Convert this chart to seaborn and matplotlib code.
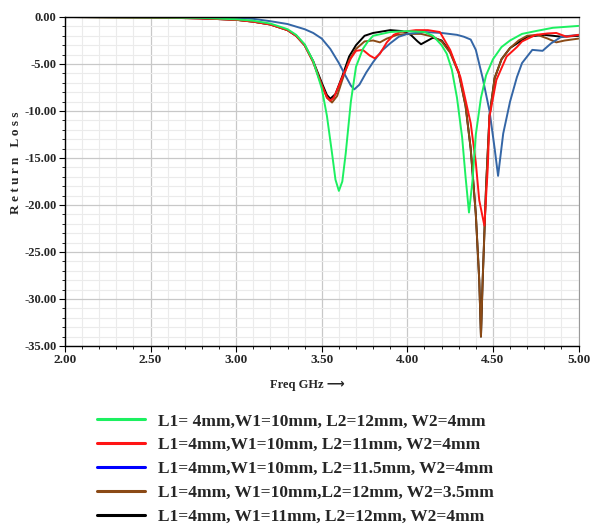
import matplotlib
matplotlib.use("Agg")
import matplotlib.pyplot as plt
from matplotlib.lines import Line2D
from matplotlib.ticker import MultipleLocator, FormatStrFormatter
import seaborn as sns
import pandas as pd

# legend labels, in the order of the reference legend
labels = ['L1= 4mm,W1=10mm, L2=12mm, W2=4mm',
          'L1=4mm,W1=10mm, L2=11mm, W2=4mm',
          'L1=4mm,W1=10mm, L2=11.5mm, W2=4mm',
          'L1=4mm, W1=10mm,L2=12mm, W2=3.5mm',
          'L1=4mm, W1=11mm, L2=12mm, W2=4mm']
line_colours = ['#1cf060', '#ff1414', '#3466a6', '#8b4a16', '#000000']
legend_colours = ['#1cf060', '#ff1414', '#0000ff', '#8b4a16', '#000000']

# (GHz, dB)
green_f = [2.00, 2.50, 2.80, 3.00, 3.10, 3.20, 3.30, 3.35, 3.40, 3.45, 3.50, 3.53, 3.56, 3.58,
           3.60, 3.62, 3.64, 3.67, 3.70, 3.74, 3.77, 3.80, 3.90, 4.00, 4.10, 4.15, 4.20, 4.23,
           4.26, 4.29, 4.32, 4.34, 4.36, 4.38, 4.40, 4.43, 4.46, 4.50, 4.55, 4.60, 4.67, 4.75,
           4.85, 5.00]
green_db = [0.00, -0.05, -0.10, -0.25, -0.40, -0.70, -1.30, -1.90, -2.90, -4.70, -7.60, -10.5,
            -14.5, -17.3, -18.5, -17.5, -14.5, -9.0, -5.3, -3.4, -2.6, -2.0, -1.6, -1.5, -1.6,
            -2.0, -3.0, -3.9, -5.6, -8.6, -12.8, -17.0, -20.8, -17.5, -12.5, -8.6, -6.2, -4.5,
            -3.2, -2.5, -1.8, -1.5, -1.15, -0.95]

red_f = [2.00, 2.50, 2.80, 3.00, 3.10, 3.20, 3.30, 3.35, 3.40, 3.45, 3.50, 3.53, 3.55, 3.57,
         3.60, 3.62, 3.65, 3.67, 3.70, 3.74, 3.78, 3.81, 3.84, 3.88, 3.92, 3.96, 4.05, 4.12,
         4.19, 4.25, 4.31, 4.37, 4.40, 4.42, 4.45, 4.47, 4.48, 4.52, 4.58, 4.64, 4.67, 4.75,
         4.82, 4.87, 4.93, 5.00]
red_db = [0.00, -0.05, -0.15, -0.30, -0.50, -0.80, -1.40, -2.00, -3.00, -4.80, -7.30, -8.50,
          -8.90, -8.60, -7.30, -6.40, -5.20, -4.40, -3.60, -3.50, -4.10, -4.40, -3.90, -2.70,
          -1.90, -1.60, -1.40, -1.40, -1.60, -3.50, -6.40, -11.3, -15.5, -19.5, -22.2, -16.0,
          -10.6, -6.7, -4.2, -3.2, -2.6, -1.9, -1.75, -1.7, -2.1, -1.9]

blue_f = [2.00, 2.50, 2.80, 3.00, 3.10, 3.20, 3.30, 3.40, 3.45, 3.50, 3.55, 3.60, 3.64, 3.67,
          3.69, 3.72, 3.76, 3.80, 3.85, 3.90, 3.95, 4.00, 4.10, 4.20, 4.29, 4.33, 4.37, 4.40,
          4.44, 4.48, 4.51, 4.53, 4.56, 4.60, 4.64, 4.67, 4.73, 4.79, 4.84, 4.90, 5.00]
blue_db = [0.00, 0.00, -0.05, -0.10, -0.20, -0.45, -0.75, -1.30, -1.70, -2.30, -3.40, -4.90,
           -6.30, -7.30, -7.70, -7.20, -5.90, -4.80, -3.60, -2.80, -2.10, -1.80, -1.60, -1.70,
           -1.90, -2.10, -2.40, -3.50, -6.50, -10.0, -14.0, -16.9, -12.4, -9.0, -6.4, -4.9,
           -3.5, -3.6, -2.8, -2.1, -1.9]

brown_f = [2.00, 2.50, 2.80, 3.00, 3.10, 3.20, 3.30, 3.35, 3.40, 3.45, 3.50, 3.53, 3.56, 3.59,
           3.62, 3.66, 3.70, 3.75, 3.80, 3.84, 3.88, 3.94, 4.00, 4.08, 4.15, 4.20, 4.25, 4.30,
           4.34, 4.37, 4.40, 4.42, 4.43, 4.44, 4.46, 4.48, 4.51, 4.55, 4.60, 4.65, 4.70, 4.76,
           4.82, 4.87, 4.92, 5.00]
brown_db = [0.00, -0.05, -0.15, -0.30, -0.50, -0.80, -1.40, -2.00, -3.00, -4.80, -7.20, -8.60,
            -9.10, -8.40, -6.70, -4.60, -3.40, -2.60, -2.50, -2.70, -2.30, -1.90, -1.80, -1.80,
            -2.10, -2.60, -3.80, -6.00, -9.50, -14.0, -21.0, -28.0, -34.0, -28.0, -18.0, -10.5,
            -6.5, -4.5, -3.3, -2.5, -2.0, -1.9, -2.3, -2.7, -2.5, -2.3]

black_f = [2.00, 2.50, 2.80, 3.00, 3.10, 3.20, 3.30, 3.35, 3.40, 3.45, 3.50, 3.53, 3.55, 3.58,
           3.62, 3.66, 3.70, 3.75, 3.80, 3.90, 3.97, 4.02, 4.06, 4.08, 4.11, 4.15, 4.20, 4.25,
           4.30, 4.34, 4.37, 4.40, 4.42, 4.43, 4.44, 4.46, 4.48, 4.51, 4.55, 4.60, 4.70, 4.80,
           4.90, 5.00]
black_db = [0.00, -0.05, -0.15, -0.30, -0.50, -0.80, -1.40, -2.00, -3.00, -4.70, -7.00, -8.30,
            -8.70, -8.20, -6.30, -4.20, -3.00, -2.00, -1.70, -1.40, -1.50, -1.90, -2.60, -2.90,
            -2.60, -2.20, -2.50, -3.70, -5.90, -9.40, -14.0, -21.0, -28.0, -34.0, -28.0, -18.0,
            -10.5, -6.5, -4.5, -3.3, -2.1, -1.9, -2.1, -2.0]

series = [(green_f, green_db), (red_f, red_db), (blue_f, blue_db),
          (brown_f, brown_db), (black_f, black_db)]
frames = []
for lab, (f, db) in zip(labels, series):
    frames.append(pd.DataFrame({'freq': f, 'loss': db, 'design': lab}))
df = pd.concat(frames, ignore_index=True)

sns.set_style('whitegrid')
serif = ['Liberation Serif', 'DejaVu Serif']
plt.rcParams['font.family'] = serif

fig = plt.figure(figsize=(5.93, 5.24), dpi=100)
ax = fig.add_axes([0.1096, 0.3397, 0.8660, 0.6279])

# draw order so that the reference overlaps look right
draw_order = [4, 3, 2, 1, 0]
for i in draw_order:
    sub = df[df['design'] == labels[i]]
    sns.lineplot(data=sub, x='freq', y='loss', color=line_colours[i], linewidth=1.4,
                 sort=False, estimator=None, ax=ax)

ax.set_xlim(2.0, 5.0)
ax.set_ylim(-35, 0)
ax.xaxis.set_major_locator(MultipleLocator(0.5))
ax.xaxis.set_minor_locator(MultipleLocator(0.1))
ax.yaxis.set_major_locator(MultipleLocator(5))
ax.yaxis.set_minor_locator(MultipleLocator(1))
ax.xaxis.set_major_formatter(FormatStrFormatter('%.2f'))
ax.yaxis.set_major_formatter(FormatStrFormatter('%.2f'))
ax.grid(which='major', color='#c8c8c8', linewidth=0.9)
ax.grid(which='minor', color='#ebebeb', linewidth=0.8)
ax.tick_params(which='both', direction='out', left=True, bottom=True, color='black')
ax.tick_params(which='major', length=4, width=0.8, labelsize=9, pad=2)
ax.tick_params(which='minor', length=2.5, width=0.6)
ax.tick_params(axis='x', labelsize=9.5, pad=2)
for t in ax.get_xticklabels() + ax.get_yticklabels():
    t.set_fontweight('bold')

for side in ['left', 'bottom', 'top']:
    ax.spines[side].set_color('black')
    ax.spines[side].set_linewidth(1.0)
ax.spines['right'].set_color('#999999')

ax.set_xlabel('Freq GHz \u27f6', fontsize=9, fontweight='bold',
              family=['Liberation Serif', 'DejaVu Sans'])
ax.xaxis.set_label_coords(0.471, -0.10)
ax.set_ylabel('R e t u r n   L o s s', fontsize=9.5, fontweight='bold')
ax.yaxis.set_label_coords(-0.084, 0.556)

handles = [Line2D([0], [0], color=c, linewidth=2.2) for c in legend_colours]
fig.legend(handles, labels, loc='upper left', bbox_to_anchor=(0.137, 0.241),
           frameon=False, handlelength=2.75, handletextpad=0.8, labelspacing=0.44,
           prop={'family': serif, 'weight': 'bold', 'size': 12.5})

fig.savefig('out.png', dpi=100, facecolor='white')
